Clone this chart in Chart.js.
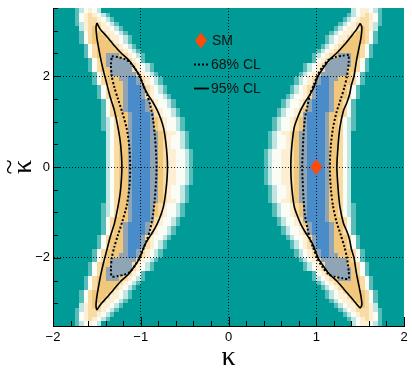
<!DOCTYPE html>
<html>
<head>
<meta charset="utf-8">
<script src="https://cdn.jsdelivr.net/npm/chart.js@4.4.1/dist/chart.umd.min.js"></script>
<style>
  html, body { margin: 0; padding: 0; background: #fff; }
  canvas { display: block; }
</style>
</head>
<body>
<canvas id="kappaChart" width="412" height="371"></canvas>
<script>
// axis ranges and tick labels
const xRange = [-2, 2];
const yRange = [-3.5, 3.5];
const xLabelled = [-2, -1, 0, 1, 2];
const yLabelled = [-2, 0, 2];
const xGridAt = [-1, 0, 1];
const yGridAt = [-2, 0, 2];

// likelihood map: one string per 0.1 row of kappa-tilde (from 3.5 down), one char per 0.05 column
const cellW = 0.05, cellH = 0.1, rowTop = 3.5;
const rightFrom = 0.35;   // right band columns go from kappa = 0.35 to the right
const leftFrom = -0.35;   // left band columns go from kappa = -0.35 to the left
const levelColors = ['#009b96', '#58bdb8', '#bfe6e2', '#fafcf6', '#fcefd3', '#f8dca4', '#f1c77c', '#8fa5b5', '#4a8bc9'];

const rightRows = [
  "000000000000000000000234432100",
  "000000000000000000001234543100",
  "000000000000000000012345543100",
  "000000000000000000123455542100",
  "000000000000000001234456542000",
  "000000000000000012344566531000",
  "000000000000000123445666531000",
  "000000000000000123456666531000",
  "000000000000001234566665310000",
  "000000000000012345666665310000",
  "000000000000123456777665310000",
  "000000000000134577777653100000",
  "000000000012345777777653100000",
  "000000000012345777776653100000",
  "000000000123457777776531000000",
  "000000001234578877666531000000",
  "000000001234578876666531000000",
  "000000012345788876665310000000",
  "000000012345788876665310000000",
  "000000123345788876665310000000",
  "000001233457888876653100000000",
  "000001233457888876653100000000",
  "000012334567888876653100000000",
  "000012334578888766653100000000",
  "000123345678888766532100000000",
  "000123345678888766532100000000",
  "000123345678888766532100000000",
  "001234456778888766532000000000",
  "001233456778888766532000000000",
  "001233456778888766532000000000",
  "001233456778888766532000000000",
  "012334456778888766532000000000",
  "012334456778888766532000000000",
  "012334456778888766532000000000",
  "012334456778888766532000000000",
  "012334456778888766532000000000",
  "012334456778888766532000000000",
  "012334456778888766532000000000",
  "012334456778888766532000000000",
  "001233456778888766532000000000",
  "001233456778888766532000000000",
  "001233456778888766532000000000",
  "001234456778888766532000000000",
  "000123345678888766532100000000",
  "000123345678888766532100000000",
  "000123345678888766532100000000",
  "000012334578888766653100000000",
  "000012334567888876653100000000",
  "000001233457888876653100000000",
  "000001233457888876653100000000",
  "000000123345788876665310000000",
  "000000012345788876665310000000",
  "000000012345788876665310000000",
  "000000001234578876666531000000",
  "000000001234578877666531000000",
  "000000000123457777776531000000",
  "000000000012345777776653100000",
  "000000000012345777777653100000",
  "000000000000134577777653100000",
  "000000000000123456777665310000",
  "000000000000012345666665310000",
  "000000000000001234566665310000",
  "000000000000000123456666531000",
  "000000000000000123445666531000",
  "000000000000000012344566531000",
  "000000000000000001234456542000",
  "000000000000000000123455542100",
  "000000000000000000012345543100",
  "000000000000000000001234543100",
  "000000000000000000000234432100"
];

const leftRows = [
  "000000000000000000000023432100",
  "000000000000000000001234543100",
  "000000000000000000012345543100",
  "000000000000000000123455542100",
  "000000000000000001234456542000",
  "000000000000000012344566531000",
  "000000000000000123445666531000",
  "000000000000000123456666531000",
  "000000000000001234566665310000",
  "000000000000012345666665310000",
  "000000000000123456777665310000",
  "000000000000134577777653100000",
  "000000000012345777777653100000",
  "000000000012345777776653100000",
  "000000000123457777776531000000",
  "000000001234578877666531000000",
  "000000001234578876666531000000",
  "000000012345788876665310000000",
  "000000012345788876665310000000",
  "000000123345788876665310000000",
  "000001233457888876653100000000",
  "000001233457888876653100000000",
  "000012334567888876653100000000",
  "000012334578888766653100000000",
  "000123345678888766532100000000",
  "000123345678888766532100000000",
  "000123345678888766532100000000",
  "001234456778888766532000000000",
  "001233456778888766532000000000",
  "001233456778888766532000000000",
  "001233456778888766532000000000",
  "012334456778888766532000000000",
  "012334456778888766532000000000",
  "012334456778888766532000000000",
  "012334456778888766532000000000",
  "012334456778888766532000000000",
  "012334456778888766532000000000",
  "012334456778888766532000000000",
  "012334456778888766532000000000",
  "001233456778888766532000000000",
  "001233456778888766532000000000",
  "001233456778888766532000000000",
  "001234456778888766532000000000",
  "000123345678888766532100000000",
  "000123345678888766532100000000",
  "000123345678888766532100000000",
  "000012334578888766653100000000",
  "000012334567888876653100000000",
  "000001233457888876653100000000",
  "000001233457888876653100000000",
  "000000123345788876665310000000",
  "000000012345788876665310000000",
  "000000012345788876665310000000",
  "000000001234578876666531000000",
  "000000001234578877666531000000",
  "000000000123457777776531000000",
  "000000000012345777776653100000",
  "000000000012345777777653100000",
  "000000000000134577777653100000",
  "000000000000123456777665310000",
  "000000000000012345666665310000",
  "000000000000001234566665310000",
  "000000000000000123456666531000",
  "000000000000000123445666531000",
  "000000000000000012344566531000",
  "000000000000000001234456542000",
  "000000000000000000123455542100",
  "000000000000000000012345543100",
  "000000000000000000001234543100",
  "000000000000000000000023432100"
];

// 95% CL contours (kappa, kappa-tilde)
const cl95Right = [[1.50,3.16],[1.46,3.03],[1.40,2.88],[1.32,2.69],[1.24,2.52],[1.15,2.36],[1.08,2.18],[1.02,2.00],[0.99,1.85],[0.97,1.74],[0.93,1.60],[0.87,1.42],[0.82,1.24],[0.78,1.05],[0.75,0.88],[0.73,0.62],[0.715,0.30],[0.71,0.00],[0.715,-0.30],[0.73,-0.62],[0.75,-0.88],[0.78,-1.05],[0.82,-1.24],[0.87,-1.42],[0.93,-1.60],[0.97,-1.74],[0.99,-1.85],[1.02,-2.00],[1.08,-2.18],[1.15,-2.36],[1.24,-2.52],[1.32,-2.70],[1.40,-2.88],[1.46,-3.02],[1.50,-3.10],[1.52,-3.03],[1.51,-2.85],[1.49,-2.65],[1.46,-2.36],[1.43,-2.00],[1.40,-1.80],[1.38,-1.60],[1.35,-1.42],[1.31,-1.24],[1.27,-0.88],[1.25,-0.50],[1.235,0.00],[1.25,0.50],[1.27,0.88],[1.31,1.24],[1.35,1.42],[1.38,1.60],[1.40,1.80],[1.43,2.00],[1.46,2.36],[1.49,2.65],[1.51,2.85],[1.52,3.08],[1.50,3.16]];
const cl95Left = [[-1.50,3.17],[-1.46,3.03],[-1.39,2.88],[-1.31,2.69],[-1.23,2.52],[-1.14,2.36],[-1.07,2.18],[-1.01,2.00],[-0.98,1.84],[-0.96,1.74],[-0.92,1.60],[-0.86,1.42],[-0.81,1.24],[-0.77,1.05],[-0.74,0.86],[-0.715,0.55],[-0.70,0.25],[-0.695,0.00],[-0.70,-0.25],[-0.715,-0.55],[-0.74,-0.86],[-0.77,-1.05],[-0.81,-1.24],[-0.86,-1.42],[-0.92,-1.60],[-0.96,-1.74],[-0.98,-1.84],[-1.01,-2.00],[-1.07,-2.18],[-1.14,-2.36],[-1.23,-2.52],[-1.31,-2.70],[-1.39,-2.88],[-1.46,-3.03],[-1.50,-3.14],[-1.51,-3.05],[-1.50,-2.85],[-1.48,-2.62],[-1.45,-2.32],[-1.41,-2.00],[-1.38,-1.78],[-1.35,-1.55],[-1.30,-1.24],[-1.26,-0.88],[-1.23,-0.50],[-1.215,0.00],[-1.23,0.50],[-1.26,0.88],[-1.30,1.24],[-1.35,1.55],[-1.38,1.78],[-1.41,2.00],[-1.45,2.32],[-1.48,2.62],[-1.50,2.85],[-1.51,3.08],[-1.50,3.17]];

// 68% CL contours
const cl68Right = [[1.37,2.47],[1.30,2.45],[1.22,2.42],[1.14,2.36],[1.07,2.20],[1.01,2.00],[0.97,1.80],[0.93,1.60],[0.90,1.35],[0.87,1.05],[0.855,0.70],[0.845,0.30],[0.84,0.00],[0.845,-0.30],[0.855,-0.70],[0.87,-1.05],[0.90,-1.35],[0.93,-1.60],[0.97,-1.80],[1.01,-2.00],[1.07,-2.20],[1.14,-2.36],[1.22,-2.42],[1.30,-2.45],[1.37,-2.46],[1.37,-2.30],[1.35,-2.00],[1.32,-1.75],[1.28,-1.50],[1.23,-1.20],[1.19,-0.85],[1.165,-0.45],[1.155,0.00],[1.165,0.45],[1.19,0.85],[1.23,1.20],[1.28,1.50],[1.32,1.75],[1.35,2.00],[1.37,2.30],[1.37,2.47]];
const cl68Left = [[-1.33,2.44],[-1.26,2.42],[-1.19,2.38],[-1.12,2.30],[-1.06,2.15],[-1.01,1.98],[-0.97,1.80],[-0.93,1.60],[-0.89,1.35],[-0.86,1.05],[-0.84,0.70],[-0.825,0.30],[-0.82,0.00],[-0.825,-0.30],[-0.84,-0.70],[-0.86,-1.05],[-0.89,-1.35],[-0.93,-1.60],[-0.97,-1.80],[-1.01,-1.98],[-1.06,-2.15],[-1.12,-2.30],[-1.19,-2.37],[-1.26,-2.40],[-1.33,-2.41],[-1.34,-2.25],[-1.33,-2.00],[-1.30,-1.75],[-1.26,-1.50],[-1.21,-1.20],[-1.16,-0.85],[-1.13,-0.45],[-1.12,0.00],[-1.13,0.45],[-1.16,0.85],[-1.21,1.20],[-1.26,1.50],[-1.30,1.75],[-1.33,2.00],[-1.34,2.25],[-1.33,2.44]];

// standard model point
const smPoint = [1, 0];

const smColor = '#ff4a08';
const serif = '"Liberation Serif", "DejaVu Serif", serif';
const toXY = pts => pts.map(p => ({x: p[0], y: p[1]}));
const minus = v => (v < 0 ? '\u2212' + Math.abs(v) : String(v));
const near = (v, list) => list.some(t => Math.abs(v - t) < 1e-6);

// tall diamond marker
const diamond = document.createElement('canvas');
diamond.width = 13; diamond.height = 17;
(function () {
  const c = diamond.getContext('2d');
  c.fillStyle = smColor;
  c.beginPath();
  c.moveTo(6.5, 0.5); c.lineTo(12.5, 8.5); c.lineTo(6.5, 16.5); c.lineTo(0.5, 8.5);
  c.closePath(); c.fill();
})();

const heatmap = {
  id: 'heatmap',
  beforeDraw(chart) {
    const {ctx, chartArea: a, scales: {x, y}} = chart;
    ctx.save();
    ctx.beginPath(); ctx.rect(a.left, a.top, a.right - a.left, a.bottom - a.top); ctx.clip();
    ctx.fillStyle = levelColors[0];
    ctx.fillRect(a.left, a.top, a.right - a.left, a.bottom - a.top);
    const paint = (rows, from, dir) => rows.forEach((row, r) => {
      const y0 = Math.round(y.getPixelForValue(rowTop - r * cellH));
      const y1 = Math.round(y.getPixelForValue(rowTop - (r + 1) * cellH));
      [...row].forEach((c, i) => {
        if (c === '0') return;
        const xa = Math.round(x.getPixelForValue(from + dir * i * cellW));
        const xb = Math.round(x.getPixelForValue(from + dir * (i + 1) * cellW));
        ctx.fillStyle = levelColors[+c];
        ctx.fillRect(Math.min(xa, xb), y0, Math.abs(xb - xa), y1 - y0);
      });
    });
    paint(rightRows, rightFrom, 1);
    paint(leftRows, leftFrom, -1);
    ctx.restore();
  }
};

// inward tick marks, the y title and the in-frame legend
const frameExtras = {
  id: 'frameExtras',
  afterDraw(chart) {
    const {ctx, chartArea: a, scales: {x, y}} = chart;
    ctx.save();
    ctx.strokeStyle = '#000';
    ctx.lineWidth = 1;
    ctx.beginPath();
    x.ticks.forEach(t => {
      const px = Math.round(x.getPixelForValue(t.value)) + 0.5;
      const len = near(t.value, xLabelled) ? 9 : 5;
      ctx.moveTo(px, a.bottom); ctx.lineTo(px, a.bottom - len);
    });
    y.ticks.forEach(t => {
      const py = Math.round(y.getPixelForValue(t.value)) + 0.5;
      const len = near(t.value, yLabelled) ? 8 : 5;
      ctx.moveTo(a.left, py); ctx.lineTo(a.left + len, py);
    });
    ctx.stroke();

    // y axis title: kappa with a tilde on top, reading upwards
    ctx.save();
    ctx.translate(a.left - 28.5, (a.top + a.bottom) / 2);
    ctx.rotate(-Math.PI / 2);
    ctx.fillStyle = '#000';
    ctx.font = '28px ' + serif;
    ctx.textAlign = 'center';
    ctx.textBaseline = 'alphabetic';
    ctx.fillText('\u03BA', 0, 6.5);
    ctx.fillText('~', 0, -6.5);
    ctx.restore();

    // legend
    const lx = a.left + 141, tx = a.left + 158;
    const rows = [a.top + 32.5, a.top + 56.5, a.top + 80.5];
    ctx.drawImage(diamond, a.left + 148 - 6.5, rows[0] - 8.5);
    ctx.lineWidth = 2;
    ctx.setLineDash([2, 2]);
    ctx.beginPath(); ctx.moveTo(lx, rows[1]); ctx.lineTo(lx + 16, rows[1]); ctx.stroke();
    ctx.setLineDash([]);
    ctx.lineWidth = 1.8;
    ctx.beginPath(); ctx.moveTo(lx, rows[2]); ctx.lineTo(lx + 15, rows[2]); ctx.stroke();
    ctx.fillStyle = '#111';
    ctx.font = '14px "Liberation Sans", Arial, sans-serif';
    ctx.textBaseline = 'middle';
    ctx.textAlign = 'left';
    ctx.fillText('SM', tx + 1, rows[0] + 1);
    ctx.fillText('68% CL', tx, rows[1] + 1);
    ctx.fillText('95% CL', tx, rows[2] + 1);
    ctx.restore();
  }
};

const lineSet = (pts, dash) => ({
  data: toXY(pts),
  showLine: true,
  borderColor: '#000',
  borderWidth: dash ? 2 : 1.6,
  borderDash: dash ? [2, 2] : [],
  pointRadius: 0,
  tension: 0.25,
  fill: false
});

new Chart(document.getElementById('kappaChart'), {
  type: 'scatter',
  data: {
    datasets: [
      {
        label: 'SM',
        data: [{x: smPoint[0], y: smPoint[1]}],
        pointStyle: diamond,
        pointRadius: 7,
        backgroundColor: smColor
      },
      Object.assign({label: '95% CL'}, lineSet(cl95Right, false)),
      Object.assign({label: '95% CL'}, lineSet(cl95Left, false)),
      Object.assign({label: '68% CL'}, lineSet(cl68Right, true)),
      Object.assign({label: '68% CL'}, lineSet(cl68Left, true))
    ]
  },
  options: {
    responsive: false,
    animation: false,
    devicePixelRatio: 1,
    layout: { padding: { top: 6, right: 4, left: 0, bottom: 0 } },
    plugins: {
      legend: { display: false },
      tooltip: { enabled: false }
    },
    scales: {
      x: {
        type: 'linear',
        min: xRange[0], max: xRange[1],
        afterFit: s => { s.height = 45; s.paddingLeft = 0; s.paddingRight = 0; },
        ticks: {
          stepSize: 0.2,
          autoSkip: false,
          maxRotation: 0,
          padding: 4,
          color: '#000',
          font: { size: 13, family: '"Liberation Sans", Arial, sans-serif' },
          callback: v => (near(v, xLabelled) ? minus(Math.round(v)) : '')
        },
        grid: {
          drawTicks: false,
          lineWidth: 1,
          color: c => (c.tick && near(c.tick.value, xGridAt) ? 'rgba(0,0,0,0.85)' : 'rgba(0,0,0,0)')
        },
        border: { display: true, color: '#000', width: 1, dash: [1, 2] },
        title: {
          display: true,
          text: '\u03BA',
          color: '#000',
          font: { size: 28, family: serif, lineHeight: 1 },
          padding: { top: 0, bottom: -1 }
        }
      },
      y: {
        type: 'linear',
        min: yRange[0], max: yRange[1],
        afterFit: s => { s.width = 53; s.paddingTop = 0; s.paddingBottom = 0; },
        ticks: {
          stepSize: 0.5,
          autoSkip: false,
          padding: 3,
          color: '#000',
          font: { size: 13, family: '"Liberation Sans", Arial, sans-serif' },
          callback: v => (near(v, yLabelled) ? minus(Math.round(v)) : '')
        },
        grid: {
          drawTicks: false,
          lineWidth: 1,
          color: c => (c.tick && near(c.tick.value, yGridAt) ? 'rgba(0,0,0,0.85)' : 'rgba(0,0,0,0)')
        },
        border: { display: true, color: '#000', width: 1, dash: [1, 2] },
        title: { display: false }
      }
    }
  },
  plugins: [heatmap, frameExtras]
});
</script>
</body>
</html>
